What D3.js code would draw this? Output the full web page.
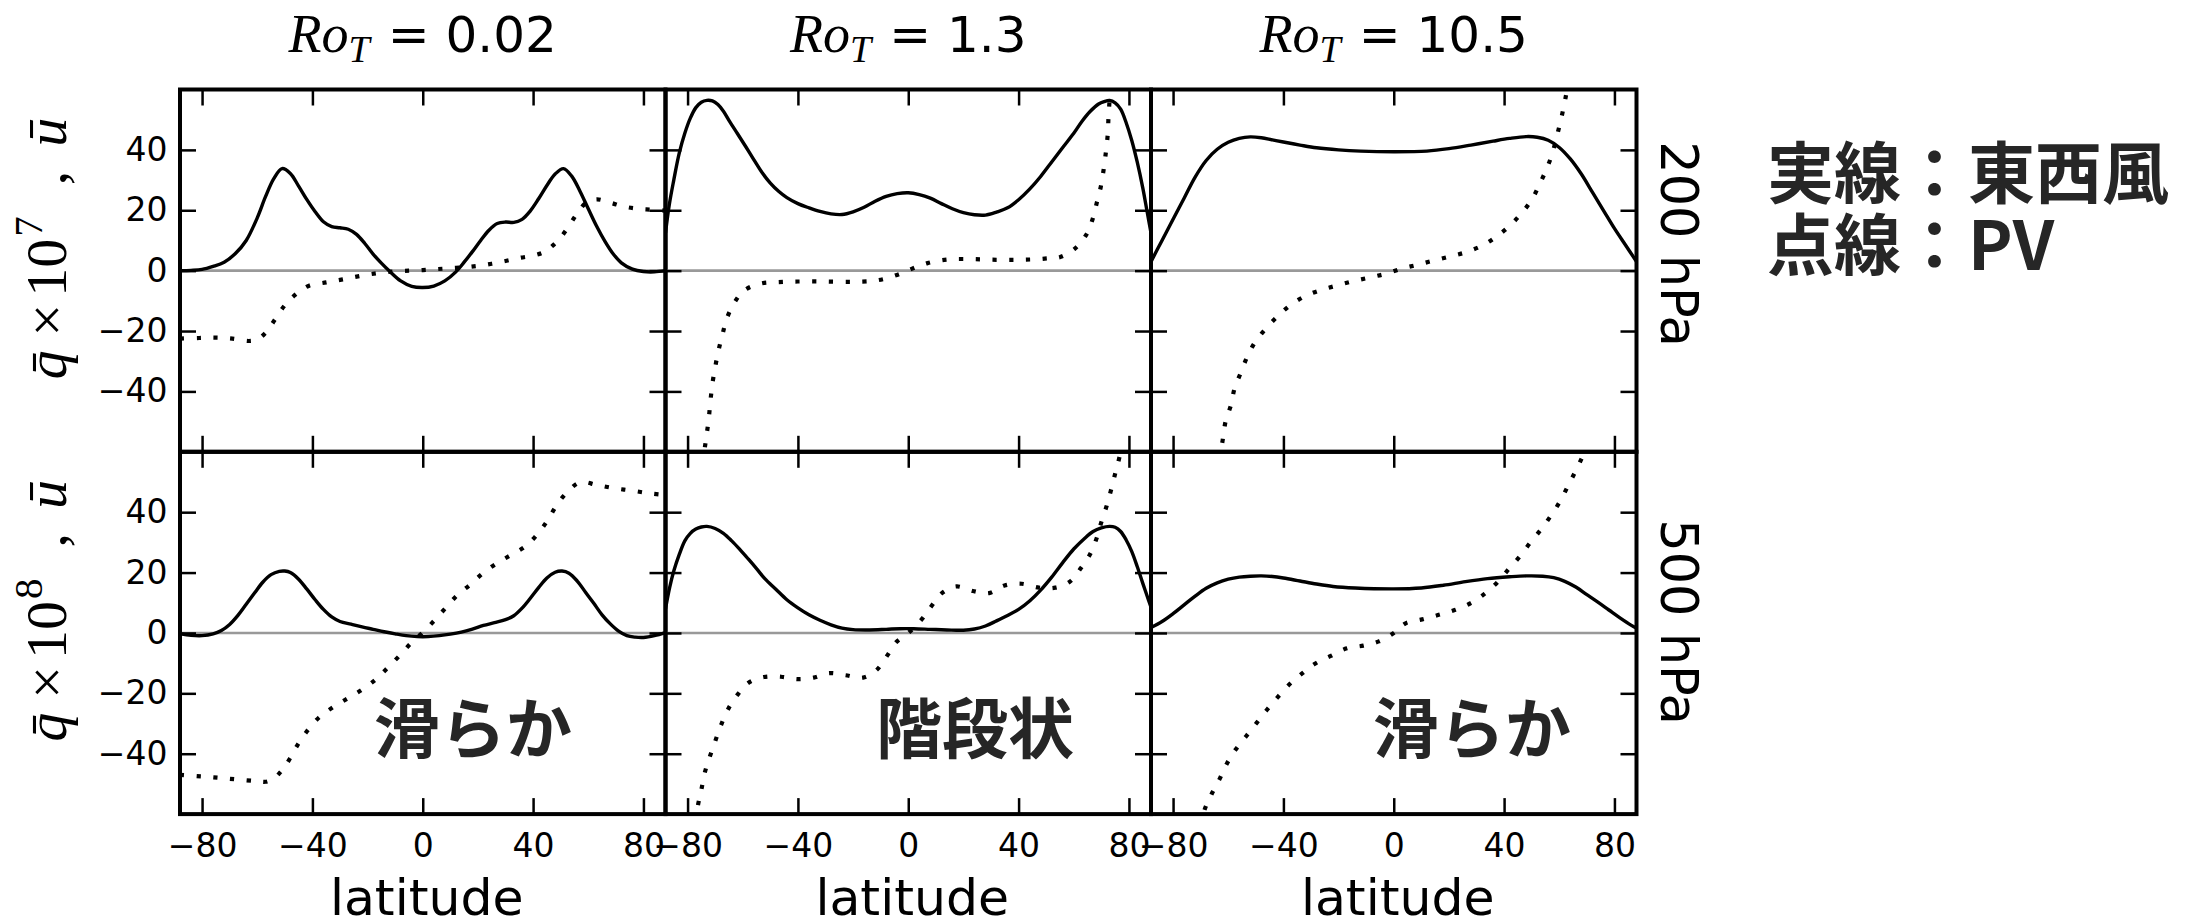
<!DOCTYPE html>
<html>
<head>
<meta charset="utf-8">
<script src="https://cdn.jsdelivr.net/npm/d3@7"></script>
<style>
  body { margin: 0; background: #fff; }
  svg { display: block; }
</style>
</head>
<body>
<svg id="chart" width="2187" height="923"></svg>
<script>
// ---- axis ticks and labels ----
const latTicks = [-80, -40, 0, 40, 80];
const valTicks = [-40, -20, 0, 20, 40];
const rossby = ["0.02", "1.3", "10.5"];
const levels = ["200 hPa", "500 hPa"];
const qExponent = ["7", "8"];

// ---- zonal-mean zonal wind (u) and PV (q), [latitude, value] ----
// 200 hPa, Ro_T = 0.02
const u200_ro002 = [[-88,0],[-84,0.1],[-80,0.4],[-76,1.4],[-72,2.8],[-68,5.6],[-64,10],[-60,17.5],[-57,24.5],[-54,30.5],[-51,33.8],[-48,32.2],[-45,28],[-42,23.5],[-39,19.5],[-36,16.2],[-33,14.6],[-30,14.2],[-27,13.7],[-24,12],[-21,9],[-18,5.5],[-15,2.5],[-12,-0.2],[-8,-3.4],[-4,-5.2],[0,-5.6],[4,-5.1],[8,-3.4],[12,-0.4],[15,2.8],[18,6.3],[21,10],[24,13.4],[27,15.6],[30,16.1],[33,16],[36,17],[39,19.8],[42,23.8],[45,28.2],[48,32],[51,33.8],[54,31.3],[57,26.3],[60,20.5],[63,14.8],[66,9.8],[69,5.6],[72,2.6],[76,0.5],[80,-0.3],[84,-0.4],[88,0]];
const q200_ro002 = [[-88,-22.5],[-81,-22.3],[-75,-22.2],[-69,-22.5],[-63,-23.3],[-60,-22.8],[-57.3,-20.9],[-55.5,-18.8],[-53.8,-16.5],[-52,-14],[-50.3,-11.8],[-48.4,-9.8],[-46.4,-8.1],[-44,-6.4],[-41,-4.9],[-35,-3.9],[-29,-2.9],[-23,-1.8],[-17,-0.9],[-11,-0.3],[-5,0],[0,0.2],[5,0.5],[10,0.8],[15,1.1],[20,1.6],[25,2.3],[30,3.2],[35,4.2],[40,5],[44,6.2],[47,8.2],[50,11],[53,14.8],[56,19],[59,22.3],[63,23.6],[68,22.5],[73,21.2],[78,20.5],[83,20.2],[88,19.9]];

// 200 hPa, Ro_T = 1.3
const u200_ro13 = [[-88,12.5],[-86.6,22],[-85,30],[-83,39],[-81,45.5],[-79,50.5],[-77,54],[-75,55.8],[-73,56.4],[-71,56.2],[-69,55],[-67,52.8],[-65,49.8],[-62,45.5],[-59,41.2],[-56,36.8],[-53,32.5],[-50,29],[-47,26.3],[-44,24.2],[-40,22.2],[-36,20.8],[-32,19.6],[-28,18.8],[-24,18.6],[-20,19.5],[-16,21],[-12,23],[-8,24.6],[-4,25.5],[0,25.8],[4,25.2],[8,24],[12,22.2],[16,20.5],[20,19.2],[24,18.5],[28,18.4],[32,19.4],[36,20.8],[40,23.5],[44,27],[48,31.2],[52,36],[56,40.8],[60,45.5],[63,49.5],[66,52.8],[69,55.2],[71,56],[73,56.4],[75,55.6],[77,53.5],[79,49],[81,43.2],[83,36],[85,27.5],[86.6,19.5],[88,12.5]];
const q200_ro13 = [[-76,-75],[-73.9,-59.7],[-73.1,-54.5],[-72.3,-48.8],[-71.7,-43.1],[-71,-37.5],[-70,-32],[-68.8,-26.5],[-67.3,-21],[-65.8,-15.9],[-62.9,-10.4],[-59.4,-6.5],[-53.6,-4.3],[-47.4,-3.8],[-40,-3.6],[-30,-3.6],[-20,-3.7],[-13,-3.4],[-9,-2.8],[-5,-1.7],[-2,-0.7],[1,0.5],[4,1.6],[7,2.5],[11,3.3],[16,3.8],[24,3.8],[32,3.6],[40,3.6],[47,3.8],[52,4.2],[55.1,4.5],[60.4,7.3],[64.4,11.7],[66.7,16.7],[68.3,22.3],[69.8,27.8],[70.8,33.3],[71.6,38.9],[72.3,45],[72.6,51],[73,56.6],[73.5,63],[75,78]];

// 200 hPa, Ro_T = 10.5
const u200_ro105 = [[-88,3],[-84,10],[-80,17],[-76,24],[-72,31],[-68,36.5],[-64,40.2],[-60,42.5],[-56,43.8],[-52,44.3],[-48,44],[-44,43.3],[-40,42.6],[-34,41.6],[-28,40.7],[-20,40],[-12,39.6],[0,39.4],[12,39.6],[20,40.4],[28,41.6],[36,42.9],[42,43.8],[48,44.4],[52,44.2],[56,43.2],[60,40.8],[64,37],[68,32],[72,26],[76,20],[80,14],[84,8.5],[88,3]];
const q200_ro105 = [[-64,-68],[-62,-56],[-60.9,-49.7],[-59,-44.5],[-57.7,-39],[-55.4,-33.7],[-53.2,-28.7],[-50.3,-23.7],[-46.5,-19.3],[-42.2,-15.2],[-37.7,-11.6],[-32.3,-8.5],[-26.7,-6.5],[-20.9,-5],[-14.8,-3.5],[-8.9,-2.3],[-2.8,-1],[3,0.7],[8.8,2],[14.7,3.4],[20.8,4.8],[26.5,6.2],[32.3,8.4],[37.4,11.4],[42.3,15.1],[46.5,19.2],[50.1,23.6],[52.9,28.7],[55.5,33.9],[57.5,38.9],[59.1,44.4],[60.6,50],[61.9,55.5],[63,61],[64,68]];

// 500 hPa, Ro_T = 0.02
const u500_ro002 = [[-88,-0.3],[-84,-0.8],[-80,-0.9],[-76,-0.3],[-73,0.8],[-70,2.8],[-67,5.8],[-64,9.5],[-61,13.2],[-58,16.8],[-55,19.3],[-52,20.4],[-50,20.5],[-48,20],[-45,17.8],[-42,14.5],[-39,11],[-36,7.8],[-33,5.3],[-30,3.8],[-26,2.9],[-22,2],[-18,1.2],[-14,0.4],[-10,-0.3],[-6,-0.9],[-2,-1.2],[2,-1.2],[6,-0.9],[10,-0.4],[14,0.3],[18,1.3],[22,2.5],[26,3.4],[30,4.4],[33,5.7],[36,8.2],[39,11.5],[42,15],[45,18.2],[48,20.1],[50.5,20.5],[53,19.8],[56,17.2],[59,13.5],[62,9.8],[65,6],[68,3],[71,0.6],[74,-0.9],[77,-1.4],[80,-1.5],[84,-0.9],[88,0.1]];
const q500_ro002 = [[-88,-47],[-82,-47.4],[-76,-47.8],[-70,-48.3],[-64,-48.8],[-60,-49.1],[-57,-49.3],[-54,-48.2],[-51.6,-46.1],[-49.8,-44],[-48.1,-41.5],[-45.2,-36.8],[-41.6,-32.1],[-37.6,-28],[-32.7,-24.7],[-27.1,-21.6],[-21.9,-18.7],[-16.9,-15.3],[-12.9,-11.7],[-8.5,-7.6],[-4.5,-3.6],[0,0.2],[4.4,4.3],[8.4,8.4],[12.4,12.4],[17.3,16.1],[21.8,19.8],[26.9,23.1],[32.3,26],[37.4,28.8],[41.8,33],[45.2,37.2],[48.4,42.1],[52.3,46.6],[57.1,49.9],[63.2,49],[69.7,47.9],[76.1,47.1],[82.6,46.2],[88,45.7]];

// 500 hPa, Ro_T = 1.3
const u500_ro13 = [[-88,8],[-86.5,15],[-85,20.5],[-83,26],[-81,30.5],[-79,33],[-77,34.4],[-75,35.1],[-73,35.3],[-70,34.6],[-67,33],[-64,30.5],[-61,27.6],[-58,24.5],[-55,21.3],[-52,18],[-48,14.5],[-44,11],[-40,8.3],[-36,6],[-32,4.2],[-28,2.7],[-24,1.6],[-20,1.1],[-14,1],[-8,1.2],[-3,1.4],[2,1.4],[8,1.2],[14,1],[20,0.9],[24,1.3],[28,2.3],[32,4],[36,5.8],[40,7.8],[44,10.6],[48,14.2],[52,18.5],[56,23.3],[60,27.8],[64,31.4],[67,33.6],[70,34.8],[73,35.3],[75,35],[77,33.6],[79,30.8],[81,27],[83,22],[85,16.5],[86.5,12.5],[88,8.5]];
const q500_ro13 = [[-78,-68],[-76.3,-57.4],[-75,-51.9],[-73.8,-46.4],[-71.9,-40.9],[-70,-35.9],[-67.9,-30.6],[-65.4,-25.4],[-62,-20.6],[-57.9,-16.5],[-52.3,-14.6],[-46.1,-14.5],[-40.1,-15.3],[-34.3,-14.8],[-28.7,-13.3],[-22.7,-14],[-16.4,-14.8],[-11.5,-12.3],[-7.7,-7.6],[-4.4,-3.1],[0,0],[4.7,4.3],[8.5,9],[12.2,13.2],[17.4,15.4],[23.4,13.9],[29.3,13.2],[34.9,15.7],[41.1,16.3],[47.4,15],[53.3,15],[58.6,17],[62.6,21.5],[65.8,25.9],[68.3,31.4],[70,36.7],[71.9,42],[73.5,47.3],[75,52.7],[76.6,58.4],[78,66]];

// 500 hPa, Ro_T = 10.5
const u500_ro105 = [[-88,1.8],[-84,3.8],[-80,6.4],[-76,9.3],[-72,12.2],[-68,14.8],[-64,16.6],[-60,17.8],[-56,18.5],[-52,18.8],[-48,18.9],[-44,18.7],[-40,18.2],[-34,17.2],[-28,16.2],[-22,15.4],[-14,14.9],[0,14.6],[10,14.9],[18,15.8],[26,17],[34,18],[42,18.6],[48,18.9],[54,18.8],[58,18.3],[62,17.1],[66,15.2],[70,12.7],[74,10.2],[78,7.6],[82,5],[86,2.6],[88,1.6]];
const q500_ro105 = [[-70,-64],[-68.6,-58.6],[-66.1,-53.5],[-63.2,-48.5],[-60.5,-43.3],[-57.3,-38.6],[-53.5,-34.2],[-49.7,-29.8],[-46.1,-25.6],[-42.2,-21.4],[-37.9,-17.1],[-33.2,-13.4],[-28.4,-10.1],[-22.8,-7.6],[-17,-5.1],[-11,-4.2],[-5.4,-2.8],[0,0],[4.3,3.2],[10.3,4.5],[16.3,6],[22.1,7.6],[27.9,9.9],[33,13],[37.5,16.7],[41.7,21.2],[45.5,25.1],[49.4,29.8],[53.3,34.2],[56.8,38.6],[60.1,43.3],[63,48.4],[65.8,53.4],[68.4,58.4],[70,62]];

// in-panel remarks (bottom row), anchored at [latitude, value]
const remarks = [
  { col: 0, text: "滑らか", at: [-17.7, -39.8] },
  { col: 1, text: "階段状", at: [-11.7, -39.8] },
  { col: 2, text: "滑らか", at: [-7.5, -39.8] }
];
const legendLines = ["実線：東西風", "点線：PV"];

// ---- layout ----
const X0 = 180, Y0 = 89.5, W = 485.5, H = 362.3;
const TICK = 16;

const panels = [
  { row: 0, col: 0, u: u200_ro002, q: q200_ro002 },
  { row: 0, col: 1, u: u200_ro13,  q: q200_ro13 },
  { row: 0, col: 2, u: u200_ro105, q: q200_ro105 },
  { row: 1, col: 0, u: u500_ro002, q: q500_ro002 },
  { row: 1, col: 1, u: u500_ro13,  q: q500_ro13 },
  { row: 1, col: 2, u: u500_ro105, q: q500_ro105 }
];

const svg = d3.select("#chart");
const x = d3.scaleLinear().domain([-88, 88]).range([0, W]);
const y = d3.scaleLinear().domain([-60, 60]).range([H, 0]);
const line = d3.line()
  .x(d => x(d[0]))
  .y(d => y(d[1]))
  .curve(d3.curveCatmullRom.alpha(0.5));

function styleAxis(sel) {
  sel.select(".domain").remove();
  sel.attr("font-family", "DejaVu Sans").attr("font-size", 33);
  sel.selectAll(".tick line").attr("stroke", "#000").attr("stroke-width", 2.5);
  sel.selectAll(".tick text").attr("fill", "#000");
}
const blank = () => "";
const fmt = d3.format("d");

panels.forEach((p, i) => {
  const g = svg.append("g")
    .attr("transform", `translate(${X0 + p.col * W},${Y0 + p.row * H})`);

  const clipId = "panel-clip-" + i;
  g.append("clipPath").attr("id", clipId)
    .append("rect").attr("width", W).attr("height", H);

  const plot = g.append("g").attr("clip-path", `url(#${clipId})`);

  plot.append("line")
    .attr("x1", 0).attr("x2", W)
    .attr("y1", y(0)).attr("y2", y(0))
    .attr("stroke", "#999").attr("stroke-width", 2.6);

  plot.append("path").datum(p.u)
    .attr("d", line)
    .attr("fill", "none").attr("stroke", "#000")
    .attr("stroke-width", 3.4).attr("stroke-linejoin", "round");

  plot.append("path").datum(p.q)
    .attr("d", line)
    .attr("fill", "none").attr("stroke", "#000")
    .attr("stroke-width", 4.2).attr("stroke-dasharray", "4.2 12.5");

  // inward ticks on all four sides
  g.append("g")
    .call(d3.axisTop(x).tickValues(latTicks).tickSizeInner(-TICK).tickSizeOuter(0).tickFormat(blank))
    .call(styleAxis);
  g.append("g").attr("transform", `translate(0,${H})`)
    .call(d3.axisBottom(x).tickValues(latTicks).tickSizeInner(-TICK).tickSizeOuter(0)
      .tickPadding(19).tickFormat(p.row === 1 ? fmt : blank))
    .call(styleAxis);
  g.append("g")
    .call(d3.axisLeft(y).tickValues(valTicks).tickSizeInner(-TICK).tickSizeOuter(0)
      .tickPadding(12.5).tickFormat(p.col === 0 ? fmt : blank))
    .call(styleAxis);
  g.append("g").attr("transform", `translate(${W},0)`)
    .call(d3.axisRight(y).tickValues(valTicks).tickSizeInner(-TICK).tickSizeOuter(0).tickFormat(blank))
    .call(styleAxis);

  // frame
  g.append("rect")
    .attr("width", W).attr("height", H)
    .attr("fill", "none").attr("stroke", "#000").attr("stroke-width", 4);
});

// remarks in bottom panels
remarks.forEach(r => {
  svg.append("text")
    .attr("x", X0 + r.col * W + x(r.at[0]))
    .attr("y", Y0 + H + y(r.at[1]))
    .attr("font-family", "Noto Sans CJK JP")
    .attr("font-weight", "bold")
    .attr("font-size", 66)
    .attr("fill", "#262626")
    .text(r.text);
});

// column titles
rossby.forEach((ro, c) => {
  const t = svg.append("text")
    .attr("x", X0 + c * W + W / 2)
    .attr("y", 51.5)
    .attr("text-anchor", "middle")
    .attr("fill", "#000");
  t.append("tspan").attr("font-family", "Liberation Serif").attr("font-style", "italic")
    .attr("font-size", 54).text("Ro");
  t.append("tspan").attr("font-family", "Liberation Serif").attr("font-style", "italic")
    .attr("font-size", 38).attr("dy", 10).text("T");
  t.append("tspan").attr("font-family", "DejaVu Sans").attr("font-size", 50)
    .attr("dy", -10).attr("dx", 18).text("= " + ro);
});

// y-axis labels
qExponent.forEach((e, r) => {
  const t = svg.append("text")
    .attr("transform", `translate(66,${Y0 + r * H + H / 2 - 22}) rotate(-90)`)
    .attr("text-anchor", "middle")
    .attr("font-family", "Liberation Serif")
    .attr("font-size", 58)
    .attr("fill", "#000");
  t.append("tspan").attr("font-style", "italic").text("q\u0304");
  t.append("tspan").attr("dx", 14).text("×");
  t.append("tspan").attr("dx", 7).text("10");
  t.append("tspan").attr("dy", -24).attr("dx", 2).attr("font-size", 41).text(e);
  t.append("tspan").attr("dy", 24).attr("dx", 31).text(",");
  t.append("tspan").attr("dx", 24).attr("font-style", "italic").text("u\u0304");
});

// pressure-level labels on the right
const levelY = [244, 622];
levels.forEach((lv, r) => {
  svg.append("text")
    .attr("transform", `translate(1661,${levelY[r]}) rotate(90)`)
    .attr("text-anchor", "middle")
    .attr("font-family", "DejaVu Sans")
    .attr("font-size", 51)
    .attr("fill", "#000")
    .text(lv);
});

// x-axis labels
rossby.forEach((ro, c) => {
  svg.append("text")
    .attr("x", X0 + c * W + W / 2 + 4)
    .attr("y", 915)
    .attr("text-anchor", "middle")
    .attr("font-family", "DejaVu Sans")
    .attr("font-size", 50.5)
    .attr("fill", "#000")
    .text("latitude");
});

// line-style key
const legendY = [198, 270];
legendLines.forEach((s, k) => {
  svg.append("text")
    .attr("x", 1767)
    .attr("y", legendY[k])
    .attr("font-family", "Noto Sans CJK JP")
    .attr("font-weight", "bold")
    .attr("font-size", 67)
    .attr("fill", "#262626")
    .text(s);
});
</script>
</body>
</html>
